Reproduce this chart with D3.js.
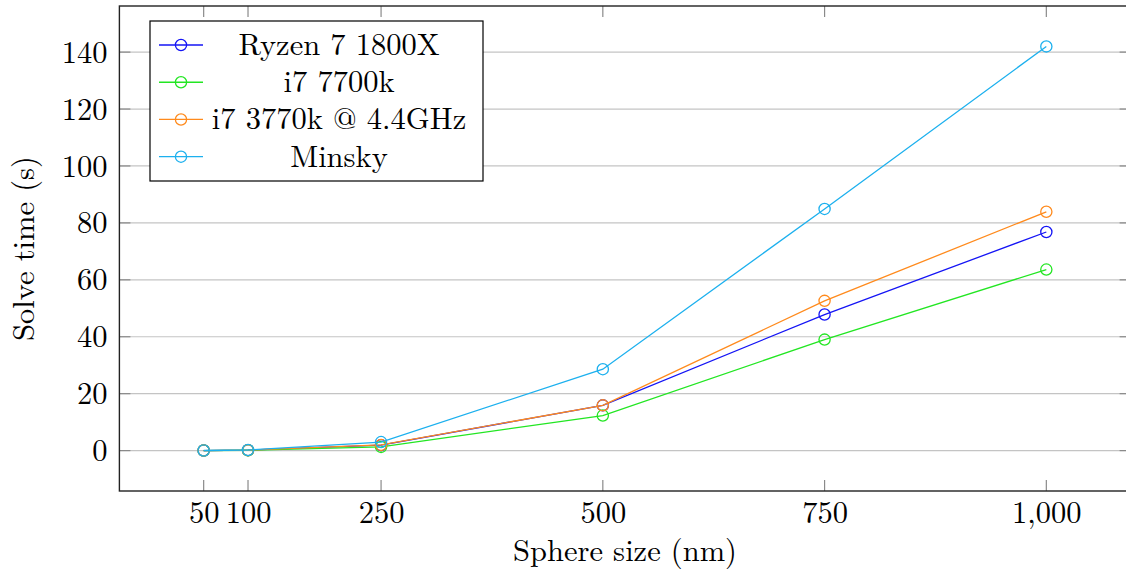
<!DOCTYPE html>
<html>
<head>
<meta charset="utf-8">
<script src="https://cdn.jsdelivr.net/npm/d3@7"></script>
<style>
  body { margin: 0; background: #fff; }
</style>
</head>
<body>
<div id="container"></div>
<script>
// sphere sizes (nm) on the x axis
const sizes = [50, 100, 250, 500, 750, 1000];

// solve times (s)
const ryzen = [0.02, 0.15, 1.9, 15.9, 47.8, 76.8];
const i7_7700k = [0.02, 0.12, 1.3, 12.3, 39.0, 63.6];
const i7_3770k = [0.02, 0.15, 2.0, 15.9, 52.6, 83.9];
const minsky = [0.03, 0.2, 3.0, 28.6, 84.9, 142.0];

const seriesNames = ['Ryzen 7 1800X', 'i7 7700k', 'i7 3770k @ 4.4GHz', 'Minsky'];
const seriesColors = ['#1414f5', '#22e622', '#ff8a1c', '#1cb0ee'];

const xTicks = [50, 100, 250, 500, 750, 1000];
const yTicks = [0, 20, 40, 60, 80, 100, 120, 140];

const WIDTH = 1126;
const HEIGHT = 577;
const MARGIN = { TOP: 6, LEFT: 119.4 };
const PLOT_W = 1011.2;
const PLOT_H = 485;
const FONT = 30.5;
const FAMILY = '"Latin Modern Roman", "CMU Serif", "Liberation Serif", serif';
const TICK = 11;

const series = [ryzen, i7_7700k, i7_3770k, minsky].map((vals, i) => ({
    name: seriesNames[i],
    color: seriesColors[i],
    points: vals.map((v, j) => ({ x: sizes[j], y: v }))
}));

const svg = d3.select('#container')
    .append('svg')
    .attr('width', WIDTH)
    .attr('height', HEIGHT);

const g = svg.append('g')
    .attr('transform', `translate(${MARGIN.LEFT}, ${MARGIN.TOP})`);

// pgfplots style: 10% enlargement on both sides
const xScale = d3.scaleLinear()
    .domain([50 - 95, 1000 + 95])
    .range([0, PLOT_W]);

const yScale = d3.scaleLinear()
    .domain([-14.2, 156.2])
    .range([PLOT_H, 0]);

// horizontal grid
g.append('g')
    .selectAll('line')
    .data(yTicks)
    .enter()
    .append('line')
      .attr('x1', 0)
      .attr('x2', PLOT_W)
      .attr('y1', d => yScale(d))
      .attr('y2', d => yScale(d))
      .attr('stroke', '#c4c4c4')
      .attr('stroke-width', 1.2);

// inward ticks on all four sides
const tickColor = '#8a8a8a';
g.append('g').selectAll('line')
    .data(xTicks).enter().append('line')
      .attr('x1', d => xScale(d)).attr('x2', d => xScale(d))
      .attr('y1', PLOT_H).attr('y2', PLOT_H - TICK)
      .attr('stroke', tickColor).attr('stroke-width', 1.2);
g.append('g').selectAll('line')
    .data(xTicks).enter().append('line')
      .attr('x1', d => xScale(d)).attr('x2', d => xScale(d))
      .attr('y1', 0).attr('y2', TICK)
      .attr('stroke', tickColor).attr('stroke-width', 1.2);
g.append('g').selectAll('line')
    .data(yTicks).enter().append('line')
      .attr('x1', 0).attr('x2', TICK)
      .attr('y1', d => yScale(d)).attr('y2', d => yScale(d))
      .attr('stroke', tickColor).attr('stroke-width', 1.2);
g.append('g').selectAll('line')
    .data(yTicks).enter().append('line')
      .attr('x1', PLOT_W - TICK).attr('x2', PLOT_W)
      .attr('y1', d => yScale(d)).attr('y2', d => yScale(d))
      .attr('stroke', tickColor).attr('stroke-width', 1.2);

// axes (labels only, ticks drawn above)
const axisBottom = d3.axisBottom(xScale)
    .tickValues(xTicks)
    .tickFormat(d3.format(','))
    .tickSize(0)
    .tickPadding(0);

const xAxis = g.append('g')
    .attr('transform', `translate(0, ${PLOT_H})`)
    .call(axisBottom);
xAxis.select('.domain').remove();
xAxis.selectAll('text')
    .style('font-family', FAMILY)
    .style('font-size', FONT + 'px')
    .attr('fill', '#000')
    .attr('y', 0)
    .attr('dy', null)
    .attr('transform', 'translate(0, 32)');

const axisLeft = d3.axisLeft(yScale)
    .tickValues(yTicks)
    .tickSize(0)
    .tickPadding(0);

const yAxis = g.append('g')
    .call(axisLeft);
yAxis.select('.domain').remove();
yAxis.selectAll('text')
    .style('font-family', FAMILY)
    .style('font-size', FONT + 'px')
    .attr('fill', '#000')
    .attr('x', -12)
    .attr('dy', '0.33em');

// frame
g.append('rect')
    .attr('x', 0)
    .attr('y', 0)
    .attr('width', PLOT_W)
    .attr('height', PLOT_H)
    .attr('fill', 'none')
    .attr('stroke', '#222')
    .attr('stroke-width', 1.4);

// lines and markers
const line = d3.line()
    .x(d => xScale(d.x))
    .y(d => yScale(d.y));

series.forEach(s => {
    g.append('path')
        .datum(s.points)
        .attr('d', line)
        .attr('fill', 'none')
        .attr('stroke', s.color)
        .attr('stroke-width', 1.3);
    g.append('g').selectAll('circle')
        .data(s.points)
        .enter()
        .append('circle')
          .attr('cx', d => xScale(d.x))
          .attr('cy', d => yScale(d.y))
          .attr('r', 5.6)
          .attr('fill', 'none')
          .attr('stroke', s.color)
          .attr('stroke-width', 1.3);
});

// axis titles
svg.append('text')
    .attr('x', MARGIN.LEFT + PLOT_W / 2)
    .attr('y', 561)
    .attr('text-anchor', 'middle')
    .style('font-family', FAMILY)
    .style('font-size', FONT + 'px')
    .text('Sphere size (nm)');

svg.append('text')
    .attr('transform', `translate(34, ${MARGIN.TOP + PLOT_H / 2}) rotate(-90)`)
    .attr('text-anchor', 'middle')
    .style('font-family', FAMILY)
    .style('font-size', FONT + 'px')
    .text('Solve time (s)');

// legend
const legend = svg.append('g')
    .attr('transform', 'translate(150, 21)');

legend.append('rect')
    .attr('width', 333)
    .attr('height', 160)
    .attr('fill', '#fff')
    .attr('stroke', '#000')
    .attr('stroke-width', 1.2);

const rowY = d3.scaleLinear().domain([0, 3]).range([24, 135.7]);

const entries = legend.selectAll('g.entry')
    .data(series)
    .enter()
    .append('g')
      .attr('class', 'entry')
      .attr('transform', (d, i) => `translate(0, ${rowY(i)})`);

entries.append('line')
    .attr('x1', 9).attr('x2', 53)
    .attr('stroke', d => d.color)
    .attr('stroke-width', 1.3);
entries.append('circle')
    .attr('cx', 31).attr('r', 5.6)
    .attr('fill', 'none')
    .attr('stroke', d => d.color)
    .attr('stroke-width', 1.3);
entries.append('text')
    .attr('x', 189)
    .attr('y', 10)
    .attr('text-anchor', 'middle')
    .style('font-family', FAMILY)
    .style('font-size', FONT + 'px')
    .text(d => d.name);
</script>
</body>
</html>
